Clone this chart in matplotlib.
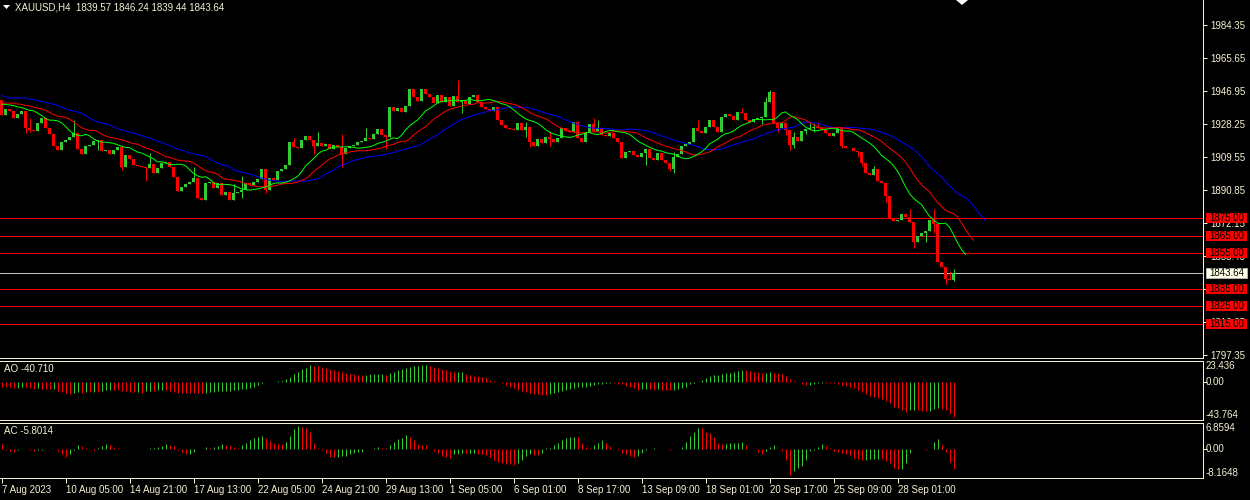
import numpy as np
import matplotlib
matplotlib.use("Agg")
import matplotlib.pyplot as plt
from matplotlib.patches import Rectangle, Polygon
from matplotlib.transforms import blended_transform_factory

plt.rcParams['font.family'] = ['Liberation Sans', 'DejaVu Sans']

# ---------------- data ----------------
symbol = "XAUUSD"
timeframe = "H4"
first_open = 1941.8
closes = [
    1933.3, 1936.7, 1935.6, 1931.6, 1933.9, 1935.6, 1926.0, 1924.8, 1924.3, 1928.8,
    1931.6, 1926.0, 1922.6, 1915.8, 1913.5, 1918.0, 1919.2, 1920.9, 1923.1, 1914.1,
    1911.2, 1915.8, 1916.3, 1918.6, 1919.2, 1912.9, 1913.5, 1911.2, 1913.5, 1915.2,
    1903.9, 1910.7, 1908.4, 1905.0, 1904.4, 1903.9, 1903.3, 1905.6, 1900.5, 1903.3,
    1906.1, 1906.7, 1903.9, 1898.2, 1890.3, 1892.5, 1894.2, 1895.4, 1897.6, 1886.3,
    1885.2, 1894.8, 1895.4, 1892.0, 1894.8, 1888.0, 1889.7, 1885.2, 1889.1, 1889.7,
    1890.8, 1894.8, 1893.7, 1895.4, 1897.1, 1902.7, 1890.8, 1897.6, 1896.5, 1901.6,
    1902.7, 1905.0, 1918.0, 1915.2, 1914.6, 1919.2, 1921.4, 1919.2, 1915.8, 1917.5,
    1915.8, 1916.9, 1914.1, 1916.3, 1915.2, 1911.2, 1914.6, 1915.8, 1916.3, 1918.0,
    1918.6, 1920.3, 1919.7, 1922.6, 1925.4, 1922.0, 1920.9, 1937.9, 1935.6, 1937.3,
    1935.0, 1938.4, 1948.1, 1943.5, 1941.3, 1948.1, 1945.2, 1943.5, 1940.1, 1944.7,
    1940.7, 1943.5, 1938.4, 1944.1, 1940.7, 1941.3, 1939.6, 1943.5, 1944.7, 1940.7,
    1937.9, 1936.7, 1935.6, 1937.9, 1930.5, 1927.7, 1926.0, 1925.4, 1924.8, 1928.8,
    1924.8, 1926.5, 1918.0, 1915.8, 1919.7, 1917.5, 1920.9, 1919.7, 1918.0, 1920.3,
    1926.0, 1924.3, 1923.7, 1929.4, 1920.3, 1918.0, 1923.1, 1928.2, 1924.3, 1926.0,
    1922.0, 1921.4, 1923.1, 1920.3, 1918.0, 1909.0, 1912.4, 1912.9, 1910.7, 1909.5,
    1911.8, 1914.1, 1909.0, 1907.8, 1911.8, 1907.8, 1906.1, 1902.7, 1909.5, 1911.2,
    1915.8, 1916.9, 1918.0, 1926.0, 1924.3, 1923.1, 1926.5, 1930.5, 1926.5, 1923.7,
    1932.2, 1933.9, 1932.8, 1930.5, 1935.0, 1934.5, 1930.5, 1929.4, 1931.1, 1931.6,
    1932.2, 1940.7, 1946.4, 1928.8, 1926.0, 1928.8, 1924.8, 1916.3, 1920.9, 1918.6,
    1924.3, 1925.4, 1926.0, 1926.5, 1926.0, 1924.8, 1923.1, 1921.4, 1923.1, 1926.0,
    1915.8, 1914.6, 1914.4, 1912.9, 1912.4, 1906.1, 1900.5, 1899.3, 1902.7, 1895.9,
    1894.8, 1887.4, 1874.4, 1873.3, 1873.8, 1877.2, 1875.5, 1872.7, 1861.4, 1864.8,
    1866.5, 1867.6, 1873.8, 1871.6, 1850.0, 1847.2, 1840.4, 1839.57, 1843.64,
]
wick_highs = {7: 1931.6, 18: 1930.5, 37: 1911.8, 48: 1903.9, 58: 1894.2, 60: 1898.8,
              73: 1920.3, 79: 1923.7, 85: 1922.6, 91: 1926.0, 114: 1953.2, 131: 1929.4,
              137: 1923.7, 148: 1931.6, 149: 1930.5, 168: 1912.4, 174: 1930.5, 185: 1937.3,
              191: 1943.5, 192: 1947.5, 198: 1923.7, 202: 1928.8, 203: 1928.8, 204: 1929.4,
              209: 1926.5, 218: 1904.4, 227: 1880.1, 233: 1880.1, 237: 1844.9, 238: 1846.24}
wick_lows = {6: 1923.1, 7: 1923.7, 24: 1913.5, 30: 1902.2, 36: 1895.9, 60: 1886.3,
             66: 1889.1, 78: 1911.2, 85: 1903.9, 96: 1914.1, 115: 1934.5, 131: 1920.9,
             132: 1915.2, 137: 1915.8, 161: 1905.0, 167: 1901.6, 168: 1900.5, 190: 1928.2,
             194: 1923.7, 196: 1922.0, 197: 1913.5, 198: 1914.6, 201: 1922.6, 203: 1923.7,
             210: 1914.6, 214: 1909.5, 215: 1904.4, 221: 1884.0, 228: 1858.0, 231: 1861.4,
             233: 1866.5, 236: 1837.6, 238: 1839.44}

# Alligator lines: values visible before the first SMMA update
jaw_lead = [1944.7, 1943.5, 1943.0, 1943.0, 1943.0, 1943.0, 1943.0, 1942.4]
teeth_lead = [1940.1, 1940.1, 1940.1, 1940.1, 1939.6]
lips_lead = [1939.5, 1939.3, 1939.0]

ao_values = [
    -5.1, -5.5, -5.9, -6.7, -6.3, -5.9, -5.9, -7.1, -7.9, -7.1,
    -7.5, -7.9, -8.3, -7.5, -10.3, -11.5, -12.2, -13.4, -12.2, -11.5,
    -12.2, -11.5, -11.9, -11.1, -11.9, -10.3, -9.5, -8.7, -8.7, -9.5,
    -10.3, -10.7, -11.1, -11.5, -11.1, -12.2, -10.3, -9.9, -10.3, -9.5,
    -9.1, -9.5, -9.9, -11.1, -12.2, -12.2, -12.6, -12.6, -13.0, -13.1,
    -13.2, -12.4, -12.0, -11.3, -10.8, -10.3, -10.0, -9.7, -9.3, -8.7,
    -8.3, -7.9, -7.1, -5.5, -3.6, -1.0, -0.2, 0.3, 0.8, 1.2,
    2.0, 4.0, 6.7, 9.5, 12.6, 15.8, 17.4, 20.5, 19.8, 19.0,
    17.8, 16.6, 15.8, 14.6, 13.4, 11.9, 10.7, 10.3, 9.5, 8.7,
    8.5, 9.1, 9.5, 9.9, 10.1, 10.3, 8.7, 10.7, 12.6, 14.2,
    15.4, 17.4, 18.6, 19.4, 19.8, 20.1, 20.5, 19.4, 18.2, 16.6,
    15.8, 14.6, 13.4, 11.9, 12.2, 12.6, 9.5, 8.7, 7.9, 7.1,
    6.3, 4.7, 2.8, 1.2, -0.2, -1.2, -3.2, -5.1, -7.1, -8.7,
    -10.3, -11.1, -12.2, -13.4, -14.2, -15.0, -15.4, -14.2, -13.0, -11.9,
    -10.3, -9.1, -7.5, -6.7, -5.9, -5.5, -5.1, -4.7, -3.6, -2.4,
    -1.6, -0.8, -0.4, -0.5, -1.6, -2.4, -4.0, -5.1, -7.1, -8.7,
    -8.3, -7.9, -8.3, -8.7, -8.5, -8.9, -9.3, -9.5, -9.1, -8.3,
    -7.1, -5.1, -2.4, -0.4, 0.8, 2.8, 5.5, 7.5, 8.3, 8.7,
    9.5, 10.7, 11.5, 12.6, 13.4, 14.6, 14.2, 13.4, 12.6, 11.9,
    10.7, 11.1, 11.9, 11.5, 10.7, 9.5, 7.9, 4.0, 1.5, 0.3,
    -1.6, -3.4, -3.2, -2.4, -0.8, -0.4, -0.5, -0.8, -1.2, -1.6,
    -3.2, -4.7, -5.9, -7.1, -9.5, -11.9, -13.8, -15.8, -17.4, -19.0,
    -20.1, -21.7, -24.1, -28.8, -30.8, -32.8, -34.8, -32.8, -32.4, -33.2,
    -33.6, -34.4, -33.6, -31.2, -30.4, -31.6, -33.2, -37.1, -40.71,
]
ac_values = [
    1.4, -0.3, -0.6, -0.8, -0.3, 0.0, -0.2, -0.3, -0.7, -0.5,
    -0.3, -0.2, -0.2, -0.1, -0.7, -1.4, -2.3, -1.6, -0.5, 0.9,
    0.8, 0.3, 0.0, -0.7, 0.2, 0.7, 1.2, 1.0, 0.4, 0.1,
    -0.2, -0.1, -0.1, -0.2, -0.1, -0.2, -0.1, 0.1, 0.2, 0.5,
    0.7, 1.4, 0.9, 0.7, -0.4, -0.8, -1.6, -1.4, -0.8, -0.1,
    0.0, 0.4, 0.3, 0.5, 0.7, 1.4, 0.9, 0.7, 0.5, 0.3,
    1.0, 1.6, 2.3, 3.1, 3.4, 3.6, 3.1, 2.2, 1.5, 1.4,
    1.2, 1.9, 3.6, 5.4, 6.4, 6.2, 5.9, 4.8, 1.7, 0.3,
    -0.5, -1.1, -2.3, -2.35, -2.2, -2.1, -2.0, -1.6, -1.2, -0.9,
    -0.8, -0.1, 0.0, 0.2, 0.5, 0.3, 0.1, 1.0, 2.0, 2.6,
    3.1, 3.8, 3.3, 2.3, 1.2, 1.0, 0.9, 0.0, -0.7, -1.2,
    -2.1, -2.3, -2.5, -1.6, -1.4, -1.1, -1.3, -1.2, -1.1, -1.4,
    -1.6, -1.9, -2.3, -3.3, -3.7, -4.0, -4.2, -4.4, -4.6, -3.9,
    -3.3, -2.1, -1.6, -1.65, -1.7, -1.2, 0.1, 0.15, 1.0, 1.7,
    2.3, 3.1, 3.3, 3.4, 3.3, 1.7, 0.5, 0.2, 0.9, 1.7,
    2.3, 1.7, 0.7, 0.0, -0.4, -1.1, -1.6, -2.1, -2.2, -2.1,
    -1.1, -0.4, -0.05, 0.1, 0.05, -0.1, -0.2, -0.3, -0.2, 0.0,
    0.5, 2.0, 3.6, 4.8, 5.9, 5.7, 4.8, 4.4, 3.3, 1.7,
    1.2, 1.4, 1.6, 1.65, 1.7, 1.75, 1.0, 0.0, -0.2, -0.8,
    -1.6, -0.7, 0.5, 1.0, 0.0, -0.7, -3.3, -7.4, -6.2, -5.4,
    -4.9, -3.3, -0.7, -0.3, 0.6, 1.2, 0.8, 0.3, -0.6, -0.9,
    -1.3, -1.6, -1.9, -2.5, -3.0, -3.3, -3.1, -3.0, -2.9, -2.8,
    -3.0, -3.4, -4.0, -5.3, -5.8, -5.7, -4.1, -1.3, -0.2, 0.0,
    0.05, -0.4, 0.0, 2.0, 2.6, 1.0, -0.9, -3.7, -5.8014,
]

levels = [1875.0, 1865.0, 1855.0, 1835.0, 1825.0, 1815.0]
price_ticks = [1984.35, 1965.65, 1946.95, 1928.25, 1909.55, 1890.85,
               1872.15, 1853.45, 1834.75, 1816.05, 1797.35]
ao_labels = [23.436, 0.0, -43.764]
ac_labels = [6.8594, 0.0, -8.1648]
time_labels = ["7 Aug 2023", "10 Aug 05:00", "14 Aug 21:00", "17 Aug 13:00",
               "22 Aug 05:00", "24 Aug 21:00", "29 Aug 13:00", "1 Sep 05:00",
               "6 Sep 01:00", "8 Sep 17:00", "13 Sep 09:00", "18 Sep 01:00",
               "20 Sep 17:00", "25 Sep 09:00", "28 Sep 01:00"]
time_label_bars = [0, 16, 32, 48, 64, 80, 96, 112, 128, 144, 160, 176, 192, 208, 224]

# ---------------- derived ----------------
c = np.array(closes)
N = len(c)
o = np.concatenate([[first_open], c[:-1]])
hi = np.maximum(o, c)
lo = np.minimum(o, c)
for k, v in wick_highs.items():
    hi[k] = max(hi[k], v)
for k, v in wick_lows.items():
    lo[k] = min(lo[k], v)
med = (hi + lo) / 2.0


def smma_line(lead, period):
    vals = list(lead)
    s = lead[-1]
    for m in med:
        s = (s * (period - 1) + m) / period
        vals.append(s)
    return np.array(vals)


jaw = smma_line(jaw_lead, 13)
teeth = smma_line(teeth_lead, 8)
lips = smma_line(lips_lead, 5)

# ---------------- style ----------------
W, H = 1250, 500
BG = "black"
FG = "#F4F0D2"
BULL = "#32CD32"
BEAR = "#FF0000"
LW = 0.72  # one pixel
FS = 7

fig = plt.figure(figsize=(W / 100, H / 100), dpi=100, facecolor=BG)


def px_axes(x0, y0, x1, y1):
    a = fig.add_axes([x0 / W, 1 - y1 / H, (x1 - x0) / W, (y1 - y0) / H])
    a.set_facecolor(BG)
    a.set_axisbelow(True)
    for s in a.spines.values():
        s.set_color(FG)
        s.set_linewidth(LW)
    a.spines["left"].set_visible(False)
    return a


AXR = 1203
ax = px_axes(0, 0, AXR, 358)
ax.spines["top"].set_visible(False)
ao_ax = px_axes(0, 361, AXR, 420)
ac_ax = px_axes(0, 423, AXR, 478)

xlim = (-0.375, AXR / 4 - 0.375)
for a in (ax, ao_ax, ac_ax):
    a.set_xlim(*xlim)

x = np.arange(N)
col = np.where(c >= o, BULL, BEAR)

# main price panel
ax.set_ylim(1795.65, 1998.52)
ax.vlines(x, lo, hi, colors=col, lw=LW, zorder=3)
ax.bar(x, np.maximum(np.abs(c - o), 0.35), bottom=np.minimum(o, c), width=0.75,
       color=col, linewidth=0, zorder=3)
ax.plot(np.arange(len(jaw)), jaw, color="#0000FF", lw=LW, zorder=4)
ax.plot(np.arange(len(teeth)), teeth, color="#FF0000", lw=LW, zorder=4)
ax.plot(np.arange(len(lips)), lips, color="#00FF00", lw=LW, zorder=4)

for lv in levels:
    ax.axhline(lv, color="#FF0000", lw=LW, zorder=2)
ax.axhline(c[-1], color="#C0C0C0", lw=LW, zorder=2)

ax.set_xticks([])
ax.yaxis.tick_right()
ax.set_yticks(price_ticks)
ax.set_yticklabels([f"{v:.2f}" for v in price_ticks])
ax.tick_params(axis="y", colors=FG, length=3, width=LW, labelsize=FS, pad=2.2)

trans = blended_transform_factory(ax.transAxes, ax.transData)
box_h = 10 * (1998.52 - 1795.65) / 358
bx0 = 1206 / AXR
bw = 41 / AXR
for lv in levels:
    ax.add_patch(Rectangle((bx0, lv - box_h / 2), bw, box_h, transform=trans,
                           fc="#FF0000", ec="none", clip_on=False, zorder=6))
    ax.text(bx0 + bw / 2, lv, f"{lv:.2f}", transform=trans, ha="center", va="center",
            fontsize=FS, color="black", clip_on=False, zorder=7)
ax.add_patch(Rectangle((bx0, c[-1] - box_h / 2), bw, box_h, transform=trans,
                       fc="#FFFFE6", ec="#B0B0B0", lw=LW, clip_on=False, zorder=6))
ax.text(bx0 + bw / 2, c[-1], f"{c[-1]:.2f}", transform=trans, ha="center", va="center",
        fontsize=FS, color="black", clip_on=False, zorder=7)

# header
fig.text(15 / W, 1 - 7.5 / H,
         f"{symbol},{timeframe}  {o[-1]:.2f} {hi[-1]:.2f} {lo[-1]:.2f} {c[-1]:.2f}",
         color=FG, fontsize=FS, va="center", ha="left")
fig.patches.append(Polygon([(3 / W, 1 - 5 / H), (10 / W, 1 - 5 / H), (6.5 / W, 1 - 9 / H)],
                           closed=True, fc="white", ec="none", transform=fig.transFigure))
fig.patches.append(Polygon([(956 / W, 1.0), (968 / W, 1.0), (962 / W, 1 - 5 / H)],
                           closed=True, fc="white", ec="none", transform=fig.transFigure))


def osc_panel(a, vals, ylim, labels, name, fmt):
    v = np.array(vals)
    prev = np.concatenate([[v[0]], v[:-1]])
    cc = np.where(v > prev, BULL, BEAR)
    a.set_ylim(*ylim)
    a.vlines(np.arange(len(v)), 0, v, colors=cc, lw=LW)
    a.set_yticks([0.0])
    a.yaxis.tick_right()
    a.set_yticklabels([""])
    a.tick_params(axis="y", colors=FG, length=3, width=LW)
    tr = blended_transform_factory(a.transAxes, a.transData)
    top, mid, bot = labels
    a.text(1206 / AXR, ylim[1], fmt(top), transform=tr, ha="left", va="top",
           fontsize=FS, color=FG, clip_on=False)
    a.text(1206 / AXR, mid, f"{mid:.2f}", transform=tr, ha="left", va="center",
           fontsize=FS, color=FG, clip_on=False)
    a.text(1206 / AXR, ylim[0], fmt(bot), transform=tr, ha="left", va="bottom",
           fontsize=FS, color=FG, clip_on=False)
    a.text(4 / AXR, 0.86, f"{name} {fmt(v[-1])}", transform=a.transAxes, ha="left",
           va="center", fontsize=FS, color=FG)


osc_panel(ao_ax, ao_values, (-44.6, 25.2), ao_labels, "AO", lambda t: f"{t:.3f}")
osc_panel(ac_ax, ac_values, (-8.2, 7.2), ac_labels, "AC", lambda t: f"{t:.4f}")
ao_ax.set_xticks([])

ac_ax.set_xticks(time_label_bars)
ac_ax.set_xticklabels(time_labels)
ac_ax.tick_params(axis="x", colors=FG, length=3.5, width=LW, labelsize=FS, pad=1.5)
for lbl in ac_ax.get_xticklabels():
    lbl.set_ha("left")

fig.savefig("out.png", dpi=100, facecolor=BG)
